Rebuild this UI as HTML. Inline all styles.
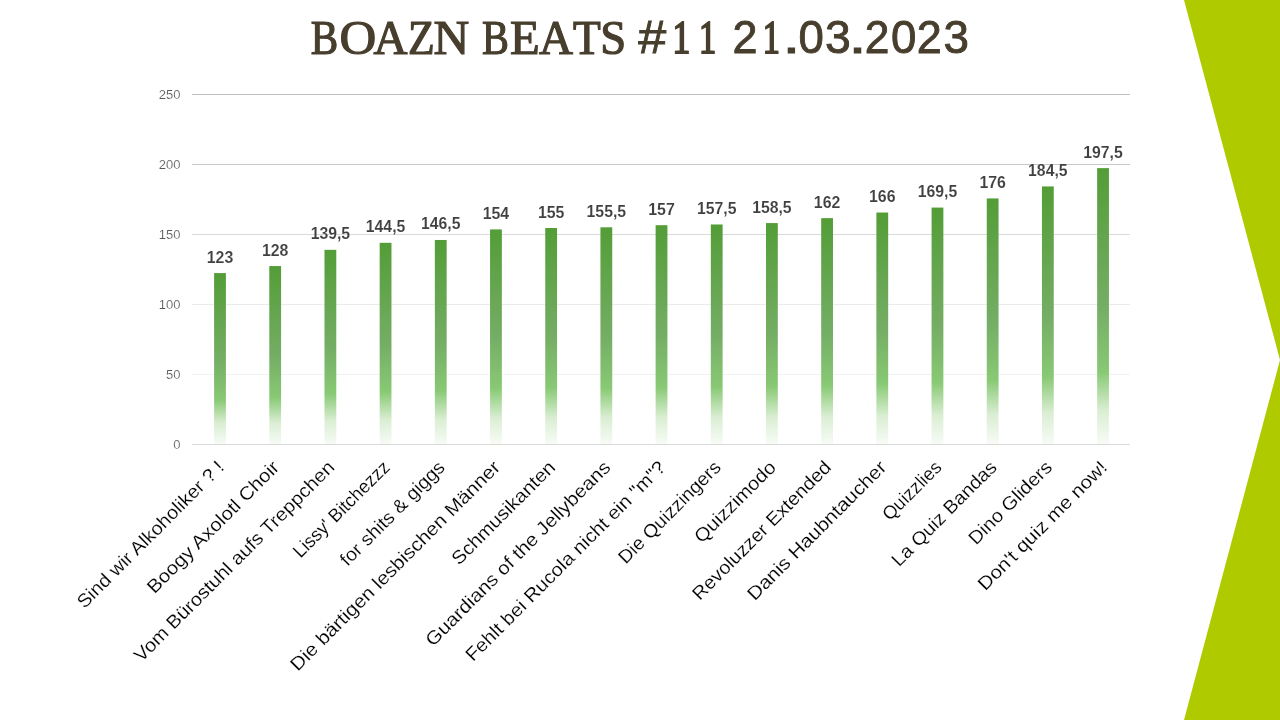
<!DOCTYPE html><html><head><meta charset="utf-8"><style>html,body{margin:0;padding:0;background:#fff;width:1280px;height:720px;overflow:hidden}svg{display:block;will-change:transform}</style></head><body>
<svg width="1280" height="720" viewBox="0 0 1280 720">
<defs><linearGradient id="g" x1="0" y1="0" x2="0" y2="1"><stop offset='0' stop-color='#539D37'/><stop offset='0.5' stop-color='#74AD64'/><stop offset='0.74' stop-color='#88C974'/><stop offset='0.88' stop-color='#DAEED3'/><stop offset='1' stop-color='#F7FBF6'/></linearGradient></defs>
<polygon points="1184,0 1280,0 1280,720 1184,720 1280,360" fill="#B0CA00"/>
<g fill="#473E2D" stroke="#473E2D" stroke-linejoin="miter">
<text transform="translate(310.66,53.50) scale(0.8572,1)" font-family="Liberation Serif" font-size="48.00" stroke-width="1.20">B</text>
<text transform="translate(339.41,53.50) scale(1.0610,1)" font-family="Liberation Serif" font-size="48.00" stroke-width="1.20">O</text>
<text transform="translate(373.54,53.50) scale(0.9810,1)" font-family="Liberation Serif" font-size="48.00" stroke-width="1.20">A</text>
<text transform="translate(407.91,53.50) scale(0.9099,1)" font-family="Liberation Serif" font-size="48.00" stroke-width="1.20">Z</text>
<text transform="translate(433.58,53.50) scale(1.0302,1)" font-family="Liberation Serif" font-size="48.00" stroke-width="1.20">N</text>
<text transform="translate(481.94,53.50) scale(0.8413,1)" font-family="Liberation Serif" font-size="48.00" stroke-width="1.20">B</text>
<text transform="translate(510.10,53.50) scale(1.0138,1)" font-family="Liberation Serif" font-size="48.00" stroke-width="1.20">E</text>
<text transform="translate(538.89,53.50) scale(0.9795,1)" font-family="Liberation Serif" font-size="48.00" stroke-width="1.20">A</text>
<text transform="translate(572.88,53.50) scale(0.9473,1)" font-family="Liberation Serif" font-size="48.00" stroke-width="1.20">T</text>
<text transform="translate(600.28,53.50) scale(0.9704,1)" font-family="Liberation Serif" font-size="48.00" stroke-width="1.20">S</text>
<text transform="translate(638.23,53.30) scale(1.0862,1)" font-family="Liberation Sans" font-size="46.29" stroke-width="0.90">#</text>
<text transform="translate(672.38,52.75) scale(0.7561,1)" font-family="Liberation Serif" font-size="46.96" stroke-width="2.00">1</text>
<text transform="translate(699.08,52.75) scale(0.7319,1)" font-family="Liberation Serif" font-size="46.96" stroke-width="2.00">1</text>
<text transform="translate(732.59,53.30) scale(0.9720,1)" font-family="Liberation Sans" font-size="46.29" stroke-width="0.90">2</text>
<text transform="translate(762.69,52.75) scale(0.7288,1)" font-family="Liberation Serif" font-size="46.96" stroke-width="2.00">1</text>
<text transform="translate(782.40,53.30) scale(1.3839,1)" font-family="Liberation Sans" font-size="46.29" stroke-width="0.90">.</text>
<text transform="translate(798.47,53.30) scale(0.9851,1)" font-family="Liberation Sans" font-size="46.29" stroke-width="0.90">0</text>
<text transform="translate(824.94,53.30) scale(1.0000,1)" font-family="Liberation Sans" font-size="46.29" stroke-width="0.90">3</text>
<text transform="translate(848.50,53.30) scale(1.4066,1)" font-family="Liberation Sans" font-size="46.29" stroke-width="0.90">.</text>
<text transform="translate(864.82,53.30) scale(0.9578,1)" font-family="Liberation Sans" font-size="46.29" stroke-width="0.90">2</text>
<text transform="translate(890.97,53.30) scale(0.9851,1)" font-family="Liberation Sans" font-size="46.29" stroke-width="0.90">0</text>
<text transform="translate(916.79,53.30) scale(0.9720,1)" font-family="Liberation Sans" font-size="46.29" stroke-width="0.90">2</text>
<text transform="translate(943.41,53.30) scale(0.9886,1)" font-family="Liberation Sans" font-size="46.29" stroke-width="0.90">3</text>
</g>
<rect x="192" y="444" width="938" height="1" fill="#D9D9D9"/>
<text x="180.5" y="448.5" text-anchor="end" font-family="Liberation Sans" font-size="13.0" fill="#595959" stroke="#fff" stroke-width="0.15">0</text>
<rect x="192" y="374" width="938" height="1" fill="#F2F2F2"/>
<text x="180.5" y="378.5" text-anchor="end" font-family="Liberation Sans" font-size="13.0" fill="#595959" stroke="#fff" stroke-width="0.15">50</text>
<rect x="192" y="304" width="938" height="1" fill="#EBEBEB"/>
<text x="180.5" y="308.5" text-anchor="end" font-family="Liberation Sans" font-size="13.0" fill="#595959" stroke="#fff" stroke-width="0.15">100</text>
<rect x="192" y="234" width="938" height="1" fill="#DADADA"/>
<text x="180.5" y="238.5" text-anchor="end" font-family="Liberation Sans" font-size="13.0" fill="#595959" stroke="#fff" stroke-width="0.15">150</text>
<rect x="192" y="164" width="938" height="1" fill="#C8C8C8"/>
<text x="180.5" y="168.5" text-anchor="end" font-family="Liberation Sans" font-size="13.0" fill="#595959" stroke="#fff" stroke-width="0.15">200</text>
<rect x="192" y="94" width="938" height="1" fill="#C0C0C0"/>
<text x="180.5" y="98.5" text-anchor="end" font-family="Liberation Sans" font-size="13.0" fill="#595959" stroke="#fff" stroke-width="0.15">250</text>
<rect x="214.10" y="273.09" width="11.80" height="170.91" fill="url(#g)"/>
<text x="220.00" y="262.59" text-anchor="middle" font-family="Liberation Sans" font-weight="bold" font-size="16.5" fill="#404040" stroke="#fff" stroke-width="0.10" textLength="26.5" lengthAdjust="spacingAndGlyphs">123</text>
<rect x="269.29" y="266.05" width="11.80" height="177.95" fill="url(#g)"/>
<text x="275.19" y="255.55" text-anchor="middle" font-family="Liberation Sans" font-weight="bold" font-size="16.5" fill="#404040" stroke="#fff" stroke-width="0.10" textLength="26.5" lengthAdjust="spacingAndGlyphs">128</text>
<rect x="324.48" y="249.84" width="11.80" height="194.16" fill="url(#g)"/>
<text x="330.38" y="239.34" text-anchor="middle" font-family="Liberation Sans" font-weight="bold" font-size="16.5" fill="#404040" stroke="#fff" stroke-width="0.10" textLength="39.5" lengthAdjust="spacingAndGlyphs">139,5</text>
<rect x="379.67" y="242.80" width="11.80" height="201.20" fill="url(#g)"/>
<text x="385.57" y="232.30" text-anchor="middle" font-family="Liberation Sans" font-weight="bold" font-size="16.5" fill="#404040" stroke="#fff" stroke-width="0.10" textLength="39.5" lengthAdjust="spacingAndGlyphs">144,5</text>
<rect x="434.86" y="239.98" width="11.80" height="204.02" fill="url(#g)"/>
<text x="440.76" y="229.48" text-anchor="middle" font-family="Liberation Sans" font-weight="bold" font-size="16.5" fill="#404040" stroke="#fff" stroke-width="0.10" textLength="39.5" lengthAdjust="spacingAndGlyphs">146,5</text>
<rect x="490.05" y="229.41" width="11.80" height="214.59" fill="url(#g)"/>
<text x="495.95" y="218.91" text-anchor="middle" font-family="Liberation Sans" font-weight="bold" font-size="16.5" fill="#404040" stroke="#fff" stroke-width="0.10" textLength="26.5" lengthAdjust="spacingAndGlyphs">154</text>
<rect x="545.24" y="228.00" width="11.80" height="216.00" fill="url(#g)"/>
<text x="551.14" y="217.50" text-anchor="middle" font-family="Liberation Sans" font-weight="bold" font-size="16.5" fill="#404040" stroke="#fff" stroke-width="0.10" textLength="26.5" lengthAdjust="spacingAndGlyphs">155</text>
<rect x="600.43" y="227.30" width="11.80" height="216.70" fill="url(#g)"/>
<text x="606.33" y="216.80" text-anchor="middle" font-family="Liberation Sans" font-weight="bold" font-size="16.5" fill="#404040" stroke="#fff" stroke-width="0.10" textLength="39.5" lengthAdjust="spacingAndGlyphs">155,5</text>
<rect x="655.62" y="225.19" width="11.80" height="218.81" fill="url(#g)"/>
<text x="661.52" y="214.69" text-anchor="middle" font-family="Liberation Sans" font-weight="bold" font-size="16.5" fill="#404040" stroke="#fff" stroke-width="0.10" textLength="26.5" lengthAdjust="spacingAndGlyphs">157</text>
<rect x="710.81" y="224.48" width="11.80" height="219.52" fill="url(#g)"/>
<text x="716.71" y="213.98" text-anchor="middle" font-family="Liberation Sans" font-weight="bold" font-size="16.5" fill="#404040" stroke="#fff" stroke-width="0.10" textLength="39.5" lengthAdjust="spacingAndGlyphs">157,5</text>
<rect x="766.00" y="223.07" width="11.80" height="220.93" fill="url(#g)"/>
<text x="771.90" y="212.57" text-anchor="middle" font-family="Liberation Sans" font-weight="bold" font-size="16.5" fill="#404040" stroke="#fff" stroke-width="0.10" textLength="39.5" lengthAdjust="spacingAndGlyphs">158,5</text>
<rect x="821.19" y="218.14" width="11.80" height="225.86" fill="url(#g)"/>
<text x="827.09" y="207.64" text-anchor="middle" font-family="Liberation Sans" font-weight="bold" font-size="16.5" fill="#404040" stroke="#fff" stroke-width="0.10" textLength="26.5" lengthAdjust="spacingAndGlyphs">162</text>
<rect x="876.38" y="212.51" width="11.80" height="231.49" fill="url(#g)"/>
<text x="882.28" y="202.01" text-anchor="middle" font-family="Liberation Sans" font-weight="bold" font-size="16.5" fill="#404040" stroke="#fff" stroke-width="0.10" textLength="26.5" lengthAdjust="spacingAndGlyphs">166</text>
<rect x="931.57" y="207.57" width="11.80" height="236.43" fill="url(#g)"/>
<text x="937.47" y="197.07" text-anchor="middle" font-family="Liberation Sans" font-weight="bold" font-size="16.5" fill="#404040" stroke="#fff" stroke-width="0.10" textLength="39.5" lengthAdjust="spacingAndGlyphs">169,5</text>
<rect x="986.76" y="198.42" width="11.80" height="245.58" fill="url(#g)"/>
<text x="992.66" y="187.92" text-anchor="middle" font-family="Liberation Sans" font-weight="bold" font-size="16.5" fill="#404040" stroke="#fff" stroke-width="0.10" textLength="26.5" lengthAdjust="spacingAndGlyphs">176</text>
<rect x="1041.95" y="186.44" width="11.80" height="257.56" fill="url(#g)"/>
<text x="1047.85" y="175.94" text-anchor="middle" font-family="Liberation Sans" font-weight="bold" font-size="16.5" fill="#404040" stroke="#fff" stroke-width="0.10" textLength="39.5" lengthAdjust="spacingAndGlyphs">184,5</text>
<rect x="1097.14" y="168.12" width="11.80" height="275.88" fill="url(#g)"/>
<text x="1103.04" y="157.62" text-anchor="middle" font-family="Liberation Sans" font-weight="bold" font-size="16.5" fill="#404040" stroke="#fff" stroke-width="0.10" textLength="39.5" lengthAdjust="spacingAndGlyphs">197,5</text>
<text transform="translate(225.21,468.46) rotate(-45)" text-anchor="end" font-family="Liberation Sans" font-size="18.7" fill="#000" stroke="#fff" stroke-width="0.15" textLength="199.1" lengthAdjust="spacingAndGlyphs">Sind wir Alkoholiker ? !</text>
<text transform="translate(280.41,468.46) rotate(-45)" text-anchor="end" font-family="Liberation Sans" font-size="18.7" fill="#000" stroke="#fff" stroke-width="0.15" textLength="178.2" lengthAdjust="spacingAndGlyphs">Boogy Axolotl Choir</text>
<text transform="translate(335.61,468.46) rotate(-45)" text-anchor="end" font-family="Liberation Sans" font-size="18.7" fill="#000" stroke="#fff" stroke-width="0.15" textLength="274.6" lengthAdjust="spacingAndGlyphs">Vom Bürostuhl aufs Treppchen</text>
<text transform="translate(390.80,468.46) rotate(-45)" text-anchor="end" font-family="Liberation Sans" font-size="18.7" fill="#000" stroke="#fff" stroke-width="0.15" textLength="127.6" lengthAdjust="spacingAndGlyphs">Lissy' Bitchezzz</text>
<text transform="translate(446.00,468.46) rotate(-45)" text-anchor="end" font-family="Liberation Sans" font-size="18.7" fill="#000" stroke="#fff" stroke-width="0.15" textLength="139.3" lengthAdjust="spacingAndGlyphs">for shits &amp; giggs</text>
<text transform="translate(501.20,468.46) rotate(-45)" text-anchor="end" font-family="Liberation Sans" font-size="18.7" fill="#000" stroke="#fff" stroke-width="0.15" textLength="287.8" lengthAdjust="spacingAndGlyphs">Die bärtigen lesbischen Männer</text>
<text transform="translate(556.39,468.46) rotate(-45)" text-anchor="end" font-family="Liberation Sans" font-size="18.7" fill="#000" stroke="#fff" stroke-width="0.15" textLength="137.9" lengthAdjust="spacingAndGlyphs">Schmusikanten</text>
<text transform="translate(611.59,468.46) rotate(-45)" text-anchor="end" font-family="Liberation Sans" font-size="18.7" fill="#000" stroke="#fff" stroke-width="0.15" textLength="252.7" lengthAdjust="spacingAndGlyphs">Guardians of the Jellybeans</text>
<text transform="translate(666.79,468.46) rotate(-45)" text-anchor="end" font-family="Liberation Sans" font-size="18.7" fill="#000" stroke="#fff" stroke-width="0.15" textLength="274.2" lengthAdjust="spacingAndGlyphs">Fehlt bei Rucola nicht ein "m"?</text>
<text transform="translate(721.98,468.46) rotate(-45)" text-anchor="end" font-family="Liberation Sans" font-size="18.7" fill="#000" stroke="#fff" stroke-width="0.15" textLength="136.2" lengthAdjust="spacingAndGlyphs">Die Quizzingers</text>
<text transform="translate(777.18,468.46) rotate(-45)" text-anchor="end" font-family="Liberation Sans" font-size="18.7" fill="#000" stroke="#fff" stroke-width="0.15" textLength="106.7" lengthAdjust="spacingAndGlyphs">Quizzimodo</text>
<text transform="translate(832.38,468.46) rotate(-45)" text-anchor="end" font-family="Liberation Sans" font-size="18.7" fill="#000" stroke="#fff" stroke-width="0.15" textLength="187.7" lengthAdjust="spacingAndGlyphs">Revoluzzer Extended</text>
<text transform="translate(887.57,468.46) rotate(-45)" text-anchor="end" font-family="Liberation Sans" font-size="18.7" fill="#000" stroke="#fff" stroke-width="0.15" textLength="188.0" lengthAdjust="spacingAndGlyphs">Danis Haubntaucher</text>
<text transform="translate(942.77,468.46) rotate(-45)" text-anchor="end" font-family="Liberation Sans" font-size="18.7" fill="#000" stroke="#fff" stroke-width="0.15" textLength="75.1" lengthAdjust="spacingAndGlyphs">Quizzlies</text>
<text transform="translate(997.97,468.46) rotate(-45)" text-anchor="end" font-family="Liberation Sans" font-size="18.7" fill="#000" stroke="#fff" stroke-width="0.15" textLength="139.9" lengthAdjust="spacingAndGlyphs">La Quiz Bandas</text>
<text transform="translate(1053.16,468.46) rotate(-45)" text-anchor="end" font-family="Liberation Sans" font-size="18.7" fill="#000" stroke="#fff" stroke-width="0.15" textLength="109.2" lengthAdjust="spacingAndGlyphs">Dino Gliders</text>
<text transform="translate(1108.36,468.46) rotate(-45)" text-anchor="end" font-family="Liberation Sans" font-size="18.7" fill="#000" stroke="#fff" stroke-width="0.15" textLength="174.1" lengthAdjust="spacingAndGlyphs">Don't quiz me now!</text>
</svg></body></html>
